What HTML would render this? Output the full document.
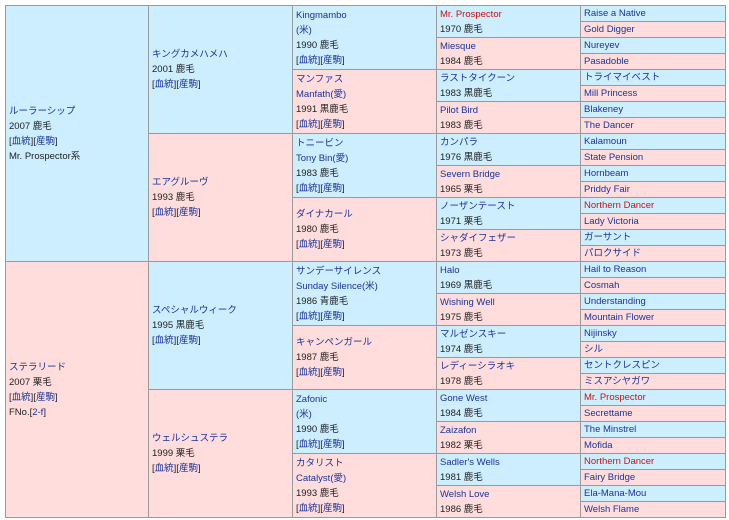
<!DOCTYPE html>
<html><head><meta charset="utf-8">
<style>
html,body{margin:0;padding:0;background:#fff;width:729px;height:520px;overflow:hidden;}
body{font-family:"Liberation Sans","Noto Sans CJK JP",sans-serif;font-size:9.5px;color:#222;position:relative;}
.c{position:absolute;box-sizing:border-box;border:1px solid #9a9a9a;display:flex;flex-direction:column;justify-content:center;padding-left:3px;line-height:15px;white-space:nowrap;overflow:hidden;}
.b{background:#cceeff;}
.p{background:#ffdddd;}
.a{color:#1a3399;}
.r{color:#cc1111;}
.x1{left:5px;width:144px;}
.x2{left:148px;width:145px;}
.x3{left:292px;width:145px;}
.x4{left:436px;width:145px;}
.x5{left:580px;width:146px;}
.h1{height:257px;}
.h2{height:129px;}
.h3{height:65px;}
.h4{height:33px;}
.h5{height:17px;}
</style></head><body>
<!-- col1 -->
<div class="c b x1 h1" style="top:5px"><div class="a">ルーラーシップ</div><div>2007 鹿毛</div><div>[<span class="a">血統</span>][<span class="a">産駒</span>]</div><div>Mr. Prospector系</div></div>
<div class="c p x1 h1" style="top:261px"><div class="a">ステラリード</div><div>2007 栗毛</div><div>[<span class="a">血統</span>][<span class="a">産駒</span>]</div><div>FNo.[<span class="a">2-f</span>]</div></div>
<!-- col2 -->
<div class="c b x2 h2" style="top:5px"><div class="a">キングカメハメハ</div><div>2001 鹿毛</div><div>[<span class="a">血統</span>][<span class="a">産駒</span>]</div></div>
<div class="c p x2 h2" style="top:133px"><div class="a">エアグルーヴ</div><div>1993 鹿毛</div><div>[<span class="a">血統</span>][<span class="a">産駒</span>]</div></div>
<div class="c b x2 h2" style="top:261px"><div class="a">スペシャルウィーク</div><div>1995 黒鹿毛</div><div>[<span class="a">血統</span>][<span class="a">産駒</span>]</div></div>
<div class="c p x2 h2" style="top:389px"><div class="a">ウェルシュステラ</div><div>1999 栗毛</div><div>[<span class="a">血統</span>][<span class="a">産駒</span>]</div></div>
<!-- col3 -->
<div class="c b x3 h3" style="top:5px"><div class="a">Kingmambo</div><div class="a">(米)</div><div>1990 鹿毛</div><div>[<span class="a">血統</span>][<span class="a">産駒</span>]</div></div>
<div class="c p x3 h3" style="top:69px"><div class="a">マンファス</div><div class="a">Manfath(愛)</div><div>1991 黒鹿毛</div><div>[<span class="a">血統</span>][<span class="a">産駒</span>]</div></div>
<div class="c b x3 h3" style="top:133px"><div class="a">トニービン</div><div class="a">Tony Bin(愛)</div><div>1983 鹿毛</div><div>[<span class="a">血統</span>][<span class="a">産駒</span>]</div></div>
<div class="c p x3 h3" style="top:197px"><div class="a">ダイナカール</div><div>1980 鹿毛</div><div>[<span class="a">血統</span>][<span class="a">産駒</span>]</div></div>
<div class="c b x3 h3" style="top:261px"><div class="a">サンデーサイレンス</div><div class="a">Sunday Silence(米)</div><div>1986 青鹿毛</div><div>[<span class="a">血統</span>][<span class="a">産駒</span>]</div></div>
<div class="c p x3 h3" style="top:325px"><div class="a">キャンペンガール</div><div>1987 鹿毛</div><div>[<span class="a">血統</span>][<span class="a">産駒</span>]</div></div>
<div class="c b x3 h3" style="top:389px"><div class="a">Zafonic</div><div class="a">(米)</div><div>1990 鹿毛</div><div>[<span class="a">血統</span>][<span class="a">産駒</span>]</div></div>
<div class="c p x3 h3" style="top:453px"><div class="a">カタリスト</div><div class="a">Catalyst(愛)</div><div>1993 鹿毛</div><div>[<span class="a">血統</span>][<span class="a">産駒</span>]</div></div>
<!-- col4 -->
<div class="c b x4 h4" style="top:5px"><div class="r">Mr. Prospector</div><div>1970 鹿毛</div></div>
<div class="c p x4 h4" style="top:37px"><div class="a">Miesque</div><div>1984 鹿毛</div></div>
<div class="c b x4 h4" style="top:69px"><div class="a">ラストタイクーン</div><div>1983 黒鹿毛</div></div>
<div class="c p x4 h4" style="top:101px"><div class="a">Pilot Bird</div><div>1983 鹿毛</div></div>
<div class="c b x4 h4" style="top:133px"><div class="a">カンパラ</div><div>1976 黒鹿毛</div></div>
<div class="c p x4 h4" style="top:165px"><div class="a">Severn Bridge</div><div>1965 栗毛</div></div>
<div class="c b x4 h4" style="top:197px"><div class="a">ノーザンテースト</div><div>1971 栗毛</div></div>
<div class="c p x4 h4" style="top:229px"><div class="a">シャダイフェザー</div><div>1973 鹿毛</div></div>
<div class="c b x4 h4" style="top:261px"><div class="a">Halo</div><div>1969 黒鹿毛</div></div>
<div class="c p x4 h4" style="top:293px"><div class="a">Wishing Well</div><div>1975 鹿毛</div></div>
<div class="c b x4 h4" style="top:325px"><div class="a">マルゼンスキー</div><div>1974 鹿毛</div></div>
<div class="c p x4 h4" style="top:357px"><div class="a">レディーシラオキ</div><div>1978 鹿毛</div></div>
<div class="c b x4 h4" style="top:389px"><div class="a">Gone West</div><div>1984 鹿毛</div></div>
<div class="c p x4 h4" style="top:421px"><div class="a">Zaizafon</div><div>1982 栗毛</div></div>
<div class="c b x4 h4" style="top:453px"><div class="a">Sadler's Wells</div><div>1981 鹿毛</div></div>
<div class="c p x4 h4" style="top:485px"><div class="a">Welsh Love</div><div>1986 鹿毛</div></div>
<!-- col5 -->
<div class="c b x5 h5 a" style="top:5px">Raise a Native</div>
<div class="c p x5 h5 a" style="top:21px">Gold Digger</div>
<div class="c b x5 h5 a" style="top:37px">Nureyev</div>
<div class="c p x5 h5 a" style="top:53px">Pasadoble</div>
<div class="c b x5 h5 a" style="top:69px">トライマイベスト</div>
<div class="c p x5 h5 a" style="top:85px">Mill Princess</div>
<div class="c b x5 h5 a" style="top:101px">Blakeney</div>
<div class="c p x5 h5 a" style="top:117px">The Dancer</div>
<div class="c b x5 h5 a" style="top:133px">Kalamoun</div>
<div class="c p x5 h5 a" style="top:149px">State Pension</div>
<div class="c b x5 h5 a" style="top:165px">Hornbeam</div>
<div class="c p x5 h5 a" style="top:181px">Priddy Fair</div>
<div class="c b x5 h5 r" style="top:197px">Northern Dancer</div>
<div class="c p x5 h5 a" style="top:213px">Lady Victoria</div>
<div class="c b x5 h5 a" style="top:229px">ガーサント</div>
<div class="c p x5 h5 a" style="top:245px">パロクサイド</div>
<div class="c b x5 h5 a" style="top:261px">Hail to Reason</div>
<div class="c p x5 h5 a" style="top:277px">Cosmah</div>
<div class="c b x5 h5 a" style="top:293px">Understanding</div>
<div class="c p x5 h5 a" style="top:309px">Mountain Flower</div>
<div class="c b x5 h5 a" style="top:325px">Nijinsky</div>
<div class="c p x5 h5 a" style="top:341px">シル</div>
<div class="c b x5 h5 a" style="top:357px">セントクレスピン</div>
<div class="c p x5 h5 a" style="top:373px">ミスアシヤガワ</div>
<div class="c b x5 h5 r" style="top:389px">Mr. Prospector</div>
<div class="c p x5 h5 a" style="top:405px">Secrettame</div>
<div class="c b x5 h5 a" style="top:421px">The Minstrel</div>
<div class="c p x5 h5 a" style="top:437px">Mofida</div>
<div class="c b x5 h5 r" style="top:453px">Northern Dancer</div>
<div class="c p x5 h5 a" style="top:469px">Fairy Bridge</div>
<div class="c b x5 h5 a" style="top:485px">Ela-Mana-Mou</div>
<div class="c p x5 h5 a" style="top:501px">Welsh Flame</div>
</body></html>
